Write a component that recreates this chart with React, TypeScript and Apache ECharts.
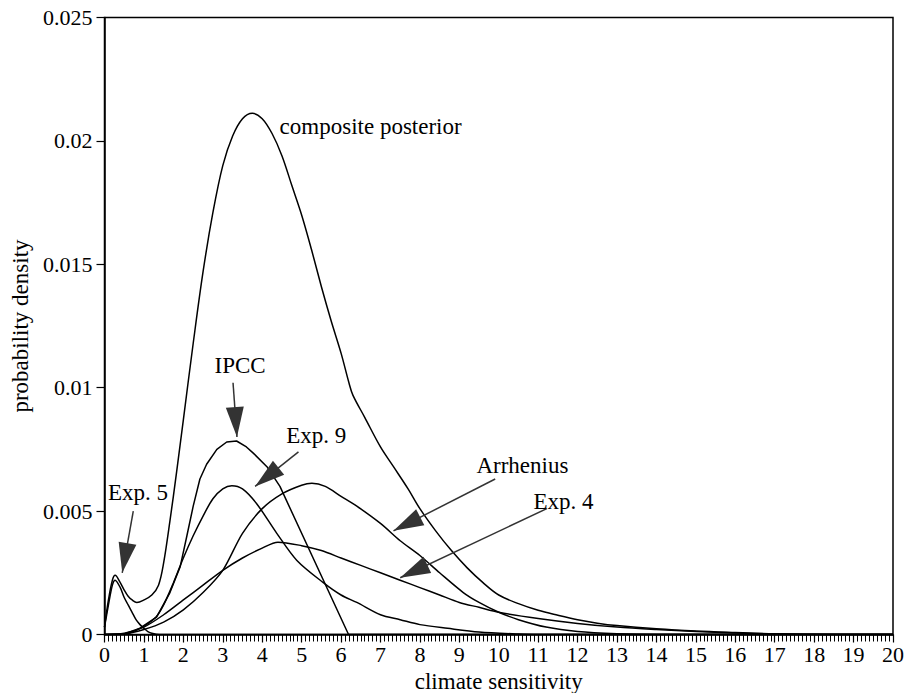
import React, { useEffect, useRef } from "react";
import * as echarts from "echarts";

const yTickLabels = ["0", "0.005", "0.01", "0.015", "0.02", "0.025"];
const xTickLabels = Array.from({ length: 21 }, (_, i) => String(i));

const composite: [number, number][] = [
  [0, 0.0003], [0.1, 0.0014], [0.2, 0.0022], [0.27, 0.0024], [0.4, 0.0021], [0.5, 0.0018],
  [0.6, 0.00155], [0.7, 0.0014], [0.82, 0.0013], [1.0, 0.0014], [1.2, 0.0016], [1.37, 0.002],
  [1.5, 0.0029], [1.66, 0.0046], [1.83, 0.0066], [2.0, 0.0087], [2.25, 0.0118], [2.5, 0.0147],
  [2.75, 0.0171], [3.0, 0.019], [3.25, 0.0202], [3.5, 0.0209], [3.75, 0.02112], [4.0, 0.0209],
  [4.25, 0.0203], [4.5, 0.0194], [4.75, 0.0182], [5.0, 0.017], [5.25, 0.0156], [5.5, 0.0141],
  [5.75, 0.0127], [6.0, 0.0114], [6.2, 0.0102], [6.3, 0.0097], [6.6, 0.0088], [7.0, 0.0076],
  [7.33, 0.0068], [7.7, 0.0059], [8.0, 0.0051], [8.4, 0.0042], [8.8, 0.0034], [9.2, 0.0027],
  [9.6, 0.0021], [10.0, 0.0016], [10.5, 0.00125], [11.0, 0.00098], [11.5, 0.00078], [12.0, 0.0006],
  [12.5, 0.00046], [13.0, 0.00036], [14.0, 0.00023], [15.0, 0.00014], [16.0, 0.00008],
  [17.0, 0.00003], [18.0, 0.00001], [19.0, 0], [20, 0],
];

const exp5: [number, number][] = [
  [0, 0.0003], [0.1, 0.0012], [0.2, 0.002], [0.27, 0.0022], [0.4, 0.0019], [0.5, 0.0015],
  [0.6, 0.0012], [0.7, 0.0009], [0.8, 0.0006], [0.9, 0.0004], [1.0, 0.00025], [1.1, 0.00012],
  [1.2, 0.00005], [1.4, 0], [20, 0],
];

const ipcc: [number, number][] = [
  [0, 0], [0.5, 0.00002], [0.9, 0.00026], [1.32, 0.0007], [1.66, 0.0017], [1.92, 0.00275],
  [2.09, 0.004], [2.25, 0.0052], [2.42, 0.0063], [2.59, 0.0069], [2.85, 0.0075], [3.1, 0.0078],
  [3.35, 0.00784], [3.6, 0.0076], [3.78, 0.00734], [4.12, 0.0068], [4.45, 0.006], [6.19, 0], [20, 0],
];

const exp9: [number, number][] = [
  [0, 0], [0.5, 0.00002], [0.9, 0.00025], [1.3, 0.0007], [1.5, 0.0012], [1.75, 0.0021],
  [2.0, 0.0031], [2.25, 0.004], [2.5, 0.0048], [2.75, 0.0055], [3.0, 0.0059], [3.23, 0.00603],
  [3.5, 0.0059], [3.86, 0.0053], [4.37, 0.0041], [4.88, 0.003], [5.55, 0.0021], [6.0, 0.0016],
  [6.4, 0.0013], [7.0, 0.0008], [7.5, 0.0006], [8.0, 0.0004], [8.7, 0.00025], [9.5, 0.0001],
  [10.5, 0.00002], [11, 0], [20, 0],
];

const arrhenius: [number, number][] = [
  [0, 0], [0.5, 0.00002], [1.0, 0.0002], [1.5, 0.0005], [2.0, 0.001], [2.5, 0.0017],
  [3.0, 0.0026], [3.5, 0.0041], [4.0, 0.0051], [4.5, 0.0057], [5.0, 0.00605], [5.26, 0.00613],
  [5.6, 0.006], [6.0, 0.0056], [6.4, 0.0052], [7.0, 0.0045], [7.5, 0.0038], [8.0, 0.0032],
  [8.5, 0.0025], [9.1, 0.0017], [9.5, 0.0013], [10.0, 0.0009], [10.5, 0.0006], [11.2, 0.0003],
  [12.0, 0.00012], [13.0, 0.00003], [14.0, 0], [20, 0],
];

const exp4: [number, number][] = [
  [0, 0], [0.5, 0.00005], [1.0, 0.0003], [1.5, 0.0008], [2.0, 0.0014], [2.5, 0.002],
  [3.0, 0.0026], [3.5, 0.0031], [4.0, 0.0035], [4.4, 0.00374], [5.0, 0.0036], [5.5, 0.0034],
  [6.0, 0.0031], [6.5, 0.0028], [7.0, 0.0025], [7.5, 0.0022], [8.0, 0.0019], [8.5, 0.0016],
  [9.0, 0.0013], [9.5, 0.0011], [10.0, 0.0009], [11.0, 0.00065], [12.0, 0.00045], [13.0, 0.0003],
  [14.0, 0.0002], [15.0, 0.00012], [16.0, 0.00006], [17.0, 0.00002], [18.0, 0], [20, 0],
];

// annotation arrows: [tail, tip] in data coordinates
const arrowIPCC: [number, number][] = [[3.26, 0.0102], [3.36, 0.0080]];
const arrowExp9: [number, number][] = [[4.92, 0.0074], [3.82, 0.006]];
const arrowExp5: [number, number][] = [[0.73, 0.005], [0.45, 0.0025]];
const arrowArrhenius: [number, number][] = [[9.91, 0.0063], [7.33, 0.0042]];
const arrowExp4: [number, number][] = [[11.22, 0.0051], [7.5, 0.0023]];

// annotation labels: text and centre in data coordinates
const labelTexts = ["composite posterior", "IPCC", "Exp. 9", "Exp. 5", "Arrhenius", "Exp. 4"];
const labelCoords: [number, number][] = [
  [6.75, 0.02057], [3.44, 0.0109], [5.37, 0.00808], [0.85, 0.00576], [10.6, 0.00684], [11.64, 0.00537],
];

const FONT = "Liberation Serif";
const HEAD_W = 18;
const HEAD_L = 30;

export default function App() {
  const ref = useRef<HTMLDivElement>(null);
  useEffect(() => {
    if (!ref.current) return;
    const chart = echarts.init(ref.current, undefined, { renderer: "svg" });
    const lineSeries = (name: string, data: [number, number][], smooth: number | boolean) => ({
      name,
      type: "line",
      data,
      smooth,
      showSymbol: false,
      symbol: "none",
      lineStyle: { color: "#000", width: 1.5 },
      z: 3,
    });
    const arrow = (a: [number, number][]) => [{ coord: a[0] }, { coord: a[1] }];
    chart.setOption({
      animation: false,
      backgroundColor: "#fff",
      textStyle: { fontFamily: FONT },
      grid: {
        left: 104.5,
        right: 13,
        top: 17.5,
        bottom: 58.5,
        show: true,
        borderColor: "#000",
        borderWidth: 1.5,
        backgroundColor: "transparent",
        containLabel: false,
        outerBoundsMode: "none",
      },
      xAxis: {
        type: "value",
        min: 0,
        max: 20,
        interval: 1,
        name: "climate sensitivity",
        nameLocation: "middle",
        nameGap: 34,
        nameTextStyle: { fontFamily: FONT, fontSize: 23, color: "#000" },
        axisLine: { lineStyle: { color: "#000", width: 1.5 } },
        axisTick: { show: true, length: 8, lineStyle: { color: "#000", width: 1.2 } },
        minorTick: { show: true, splitNumber: 10, length: 7, lineStyle: { color: "#000", width: 1 } },
        splitLine: { show: false },
        axisLabel: {
          fontFamily: FONT,
          fontSize: 22,
          color: "#000",
          margin: 9,
          formatter: (v: number) => xTickLabels[Math.round(v)] ?? "",
        },
      },
      yAxis: {
        type: "value",
        min: 0,
        max: 0.025,
        interval: 0.005,
        name: "probability density",
        nameLocation: "middle",
        nameGap: 70,
        nameTextStyle: { fontFamily: FONT, fontSize: 23, color: "#000" },
        axisLine: { show: true, lineStyle: { color: "#000", width: 1.5 } },
        axisTick: { show: true, length: 8, lineStyle: { color: "#000", width: 1.2 } },
        splitLine: { show: false },
        axisLabel: {
          fontFamily: FONT,
          fontSize: 22,
          color: "#000",
          margin: 12,
          formatter: (v: number) => yTickLabels[Math.round(v / 0.005)] ?? "",
        },
      },
      series: [
        lineSeries("composite posterior", composite, 0.35),
        lineSeries("Exp. 5", exp5, 0.3),
        lineSeries("IPCC", ipcc, false),
        lineSeries("Exp. 9", exp9, 0.3),
        lineSeries("Arrhenius", arrhenius, 0.3),
        {
          ...lineSeries("Exp. 4", exp4, 0.3),
          markLine: {
            silent: true,
            symbol: ["none", "triangle"],
            symbolSize: [HEAD_W, HEAD_L],
            symbolOffset: [[0, 0], [0, HEAD_L / 2]],
            lineStyle: { color: "#333", width: 1.5, type: "solid" },
            label: { show: false },
            data: [arrow(arrowIPCC), arrow(arrowExp9), arrow(arrowExp5), arrow(arrowArrhenius), arrow(arrowExp4)],
            z: 5,
          },
          markPoint: {
            silent: true,
            symbol: "rect",
            symbolSize: 1,
            itemStyle: { color: "rgba(0,0,0,0)" },
            label: {
              show: true,
              position: "inside",
              color: "#000",
              fontFamily: FONT,
              fontSize: 23,
              formatter: (p: any) => p.name,
            },
            data: labelTexts.map((t, i) => ({ name: t, coord: labelCoords[i] })),
            z: 10,
          },
        },
      ],
    });
    return () => chart.dispose();
  }, []);
  return (
    <div
      ref={ref}
      style={{ position: "fixed", left: 0, top: 0, width: 906, height: 693, background: "#fff" }}
    />
  );
}
